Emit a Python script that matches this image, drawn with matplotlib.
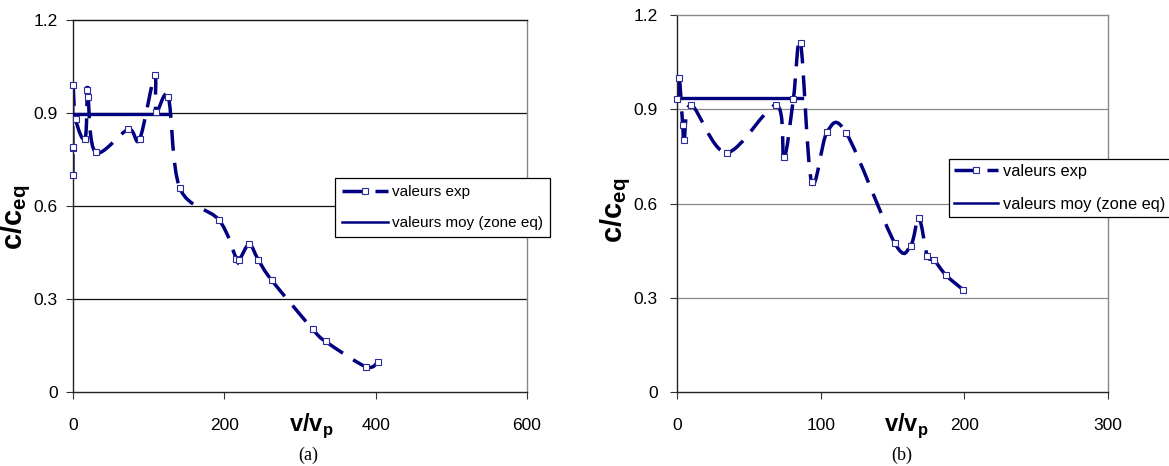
import numpy as np
import matplotlib
matplotlib.use("Agg")
import matplotlib.pyplot as plt
from matplotlib.path import Path
from matplotlib.patches import PathPatch
from matplotlib.lines import Line2D

plt.rcParams['font.family'] = ['Liberation Sans', 'DejaVu Sans']
plt.rcParams['mathtext.fontset'] = 'custom'
plt.rcParams['mathtext.rm'] = 'Liberation Sans'
plt.rcParams['mathtext.bf'] = 'Liberation Sans:bold'

navy = '#000080'

# panel (a): experimental values and mean over the equilibrium zone
va_exp = [0, 0, 0, 0, 3.5, 16, 19, 20, 30, 73, 88, 108, 110, 126,
          141.4, 193, 216, 220, 233, 245, 262.5, 316.7, 334, 386.8, 403.5]
ca_exp = [0.70, 0.786, 0.79, 0.99, 0.88, 0.816, 0.975, 0.95, 0.773, 0.847,
          0.815, 1.023, 0.904, 0.951, 0.657, 0.555, 0.43, 0.427, 0.476,
          0.426, 0.361, 0.203, 0.163, 0.082, 0.098]
va_moy = [0, 128]
ca_moy = [0.897, 0.897]

# panel (b)
vb_exp = [0, 1.6, 4, 5, 10, 34.5, 69, 74.5, 81, 86, 93.7, 104.6, 118,
          151.7, 162.6, 168.4, 174.2, 179, 187.2, 199.3]
cb_exp = [0.932, 0.998, 0.85, 0.802, 0.913, 0.762, 0.913, 0.747, 0.932,
          1.112, 0.669, 0.829, 0.823, 0.473, 0.466, 0.553, 0.434, 0.42,
          0.372, 0.325]
vb_moy = [0, 86.8]
cb_moy = [0.935, 0.935]

yticks = [0, 0.3, 0.6, 0.9, 1.2]
yticklabels = ['0', '0.3', '0.6', '0.9', '1.2']
xticks_a = [0, 200, 400, 600]
xticks_b = [0, 100, 200, 300]

LW = 2.5
DASH = (6, 3.5)


def smooth_dashed(ax, x, y):
    # Excel-like smoothed line, dash pattern restarting at every point
    pts = np.column_stack([x, y]).astype(float)
    n = len(pts)
    for i in range(n - 1):
        p0 = pts[max(i - 1, 0)]
        p1 = pts[i]
        p2 = pts[i + 1]
        p3 = pts[min(i + 2, n - 1)]
        c1 = p1 + (p2 - p0) / 6
        c2 = p2 - (p3 - p1) / 6
        path = Path([p1, c1, c2, p2],
                    [Path.MOVETO, Path.CURVE4, Path.CURVE4, Path.CURVE4])
        ax.add_patch(PathPatch(path, facecolor='none', edgecolor=navy,
                               lw=LW, linestyle=(0, DASH), capstyle='butt',
                               zorder=2))
    ax.plot(x, y, ls='none', marker='s', ms=4, mfc='white', mec='#2a2a9a',
            mew=0.8, zorder=4, clip_on=False)


def setup(ax, xmax, xticks, grid_col, right_col, top_col, ypad, xpad):
    ax.set_xlim(0, xmax)
    ax.set_ylim(0, 1.2)
    ax.set_yticks(yticks)
    ax.set_yticklabels(yticklabels)
    ax.set_xticks(xticks)
    ax.tick_params(axis='both', direction='out', length=5, width=0.8,
                   labelsize=12.5, color='#333333')
    ax.tick_params(axis='y', pad=ypad)
    ax.tick_params(axis='x', pad=xpad)
    for y in yticks[1:4]:
        ax.axhline(y, color=grid_col, lw=0.9, zorder=1)
    ax.spines['left'].set_color('#222222')
    ax.spines['bottom'].set_color('#222222')
    ax.spines['right'].set_color(right_col)
    ax.spines['top'].set_color(top_col)
    for s in ax.spines.values():
        s.set_linewidth(1.0)


fig = plt.figure(figsize=(11.69, 4.66), dpi=100)
ax1 = fig.add_axes([0.0624, 0.1588, 0.3884, 0.7983])
ax2 = fig.add_axes([0.5791, 0.1588, 0.3687, 0.8090])

setup(ax1, 600, xticks_a, '#111111', '#888888', '#111111', 6, 14)
setup(ax2, 300, xticks_b, '#888888', '#888888', '#888888', 9, 14)

smooth_dashed(ax1, va_exp, ca_exp)
ax1.plot(va_moy, ca_moy, color=navy, lw=2.4, zorder=3)
smooth_dashed(ax2, vb_exp, cb_exp)
ax2.plot(vb_moy, cb_moy, color=navy, lw=2.4, zorder=3)

h_exp = Line2D([], [], color=navy, lw=LW, dashes=DASH, marker='s', ms=4,
               mfc='white', mec='#2a2a9a', mew=0.8)
h_moy = Line2D([], [], color=navy, lw=1.8)
labels = ['valeurs exp', 'valeurs moy (zone eq)']

leg1 = fig.legend([h_exp, h_moy], labels, loc='upper left',
                  bbox_to_anchor=(335 / 1169, 1 - 178 / 466),
                  bbox_transform=fig.transFigure, borderaxespad=0,
                  fontsize=11, frameon=True, fancybox=False, framealpha=1,
                  edgecolor='black', borderpad=0.45, handlelength=3.0,
                  handletextpad=0.3, labelspacing=1.15, numpoints=1)
leg1.get_frame().set_linewidth(0.9)
leg2 = fig.legend([h_exp, h_moy], labels, loc='upper left',
                  bbox_to_anchor=(949 / 1169, 1 - 159 / 466),
                  bbox_transform=fig.transFigure, borderaxespad=0,
                  fontsize=11.8, frameon=True, fancybox=False, framealpha=1,
                  edgecolor='black', borderpad=0.3, handlelength=2.7,
                  handletextpad=0.3, labelspacing=1.1, numpoints=1)
leg2.get_frame().set_linewidth(0.9)

ylab = r'$\mathbf{c/c}_{\mathbf{eq}}$'
xlab = r'$\mathbf{v/v}_{\mathbf{p}}$'
fig.text(16 / 1169, 1 - 217 / 466, ylab, rotation=90, fontsize=21,
         ha='center', va='center')
fig.text(616 / 1169, 1 - 210 / 466, ylab, rotation=90, fontsize=21,
         ha='center', va='center')
fig.text(311 / 1169, 1 - 426 / 466, xlab, fontsize=17, ha='center', va='center')
fig.text(906 / 1169, 1 - 426 / 466, xlab, fontsize=17, ha='center', va='center')
fig.text(308 / 1169, 1 - 455 / 466, '(a)', family='Liberation Serif',
         fontsize=13, ha='center', va='center')
fig.text(902 / 1169, 1 - 455 / 466, '(b)', family='Liberation Serif',
         fontsize=13, ha='center', va='center')

fig.savefig('out.png', dpi=100)
